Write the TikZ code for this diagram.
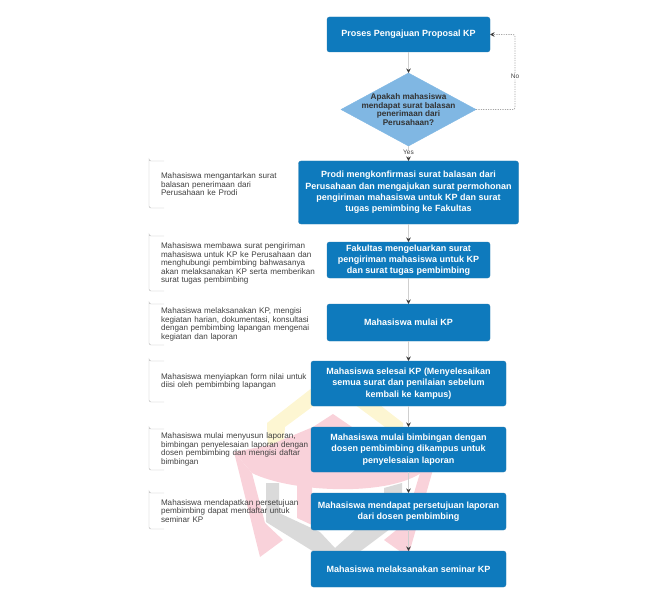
\documentclass[tikz,border=0pt]{standalone}
\usepackage{fontspec}
\setmainfont{Liberation Sans}
\usetikzlibrary{arrows.meta, positioning, shapes.geometric, calc}
\definecolor{boxblue}{HTML}{0E7ABD}
\definecolor{diamondblue}{HTML}{80B7E3}
\definecolor{linegray}{HTML}{CFCFCF}
\definecolor{tipgray}{HTML}{3A3A3A}
\definecolor{notegray}{HTML}{B5B5B5}
\definecolor{logoyellow}{HTML}{FDF6D2}
\definecolor{logopink}{HTML}{F9D2DA}
\definecolor{logogray}{HTML}{DADADA}

\begin{document}
\begin{tikzpicture}[
    x=1pt, y=-1pt,
    node distance=21pt,
    stepbox/.style={draw=boxblue!80!gray, rounded corners=2.5pt, fill=boxblue, text=white,
      font=\fontsize{9}{11.3}\selectfont\bfseries, align=center, outer sep=0pt, inner sep=0pt, minimum width=#1},
    question/.style={diamond, draw=diamondblue, fill=diamondblue, aspect=1.85, inner sep=-6pt, outer sep=0pt,
      minimum width=135pt, minimum height=73pt, font=\fontsize{8.2}{8.4}\selectfont\bfseries, align=center, text=black!80},
    note/.style={font=\fontsize{8.1}{8.5}\selectfont, text=black!75, align=left, anchor=north east, outer sep=0pt,
      inner xsep=12pt, inner ysep=0pt, text width=154pt,
      append after command={
        ($(\tikzlastnode.north west)+(15pt,0)$) edge[notebracket] ($(\tikzlastnode.south west)+(15pt,0)$)
      }},
    notebracket/.style={draw=notegray, rounded corners=2pt, to path={-| ($(\tikztostart -| \tikzlastnode.west)$) |- (\tikztotarget)}},
    arrow/.style={draw=linegray, line width=0.8pt, -{Stealth[length=4.5pt, width=4.5pt, color=tipgray]}},
    flowlabel/.style={font=\fontsize{6.5}{7}\selectfont, text=black!75, fill=white, inner sep=0.8pt}
]

% Logo behind the flow
\fill[logoyellow] (267,423) -- (335,370) -- (403,423) -- (403,458) -- (387,450) -- (385,427) -- (335,390)
  -- (285,427) -- (283,450) -- (268,458) -- cycle;
\fill[logopink] (333,414) -- (313,427) -- (270,445) -- (234,452) -- (252,473)
  .. controls (290,492) and (385,497) .. (421,473) -- (438,452) -- (395,445) -- (352,427) -- cycle;
\fill[logopink] (234,452) -- (260,557) -- (283,540) -- (265,523) -- (252,473) -- cycle;
\fill[logopink] (438,452) -- (408,557) -- (384,540) -- (405,523) -- (420,473) -- cycle;
\fill[logopink] (297,485) -- (312,487) -- (312,525) -- (297,518) -- cycle;
\fill[logogray] (266,483) -- (279,483) -- (279,513) -- (320,532) -- (335,548) -- (355,530) -- (384,510)
  -- (384,488) -- (402,483) -- (402,520) -- (362,550) -- (335,565) -- (266,522) -- cycle;

% Flow boxes
\node[stepbox=163pt, minimum height=35pt] (proses) at (408.5,34.5) {Proses Pengajuan Proposal KP};
\node[question, below=21pt of proses] (tanya) {Apakah mahasiswa\\mendapat surat balasan\\penerimaan dari\\Perusahaan?};
\node[stepbox=220pt, minimum height=63pt, below=15pt of tanya] (prodi) {Prodi mengkonfirmasi surat balasan dari\\Perusahaan dan mengajukan surat permohonan\\pengiriman mahasiswa untuk KP dan surat\\tugas pemimbing ke Fakultas};
\node[stepbox=163pt, minimum height=36pt, below=18pt of prodi] (fakultas) {Fakultas mengeluarkan surat\\pengiriman mahasiswa untuk KP\\dan surat tugas pembimbing};
\node[stepbox=163pt, minimum height=37pt, below=26pt of fakultas] (mulai) {Mahasiswa mulai KP};
\node[stepbox=195pt, minimum height=45pt, below=20pt of mulai] (selesai) {Mahasiswa selesai KP (Menyelesaikan\\semua surat dan penilaian sebelum\\kembali ke kampus)};
\node[stepbox=195pt, minimum height=45pt, below=of selesai] (bimbingan) {Mahasiswa mulai bimbingan dengan\\dosen pembimbing dikampus untuk\\penyelesaian laporan};
\node[stepbox=195pt, minimum height=37pt, below=of bimbingan] (setuju) {Mahasiswa mendapat persetujuan laporan\\dari dosen pembimbing};
\node[stepbox=195pt, minimum height=36pt, below=21pt of setuju] (seminar) {Mahasiswa melaksanakan seminar KP};

% Notes
\node[note, minimum height=47pt] (note1) at (prodi.north west -| proses.west) {Mahasiswa mengantarkan surat\\balasan penerimaan dari\\Perusahaan ke Prodi};
\node[note, minimum height=55pt, below=28pt of note1] (note2) {Mahasiswa membawa surat pengiriman\\mahasiswa untuk KP ke Perusahaan dan\\menghubungi pembimbing bahwasanya\\akan melaksanakan KP serta memberikan\\surat tugas pembimbing};
\node[note, minimum height=41pt, below=13pt of note2] (note3) {Mahasiswa melaksanakan KP, mengisi\\kegiatan harian, dokumentasi, konsultasi\\dengan pembimbing lapangan mengenai\\kegiatan dan laporan};
\node[note, minimum height=41pt, below=16pt of note3] (note4) {Mahasiswa menyiapkan form nilai untuk\\diisi oleh pembimbing lapangan};
\node[note, minimum height=41pt, below=27pt of note4] (note5) {Mahasiswa mulai menyusun laporan,\\bimbingan penyelesaian laporan dengan\\dosen pembimbing dan mengisi daftar\\bimbingan};
\node[note, minimum height=36pt, below=23pt of note5] (note6) {Mahasiswa mendapatkan persetujuan\\pembimbing dapat mendaftar untuk\\seminar KP};

% Arrows
\coordinate (noturn) at (515,0);
\draw[arrow] (proses) -- (tanya);
\draw[arrow] (tanya) -- node[flowlabel, pos=0.45] (yes) {Yes} (prodi);
\draw[arrow] (prodi) -- (fakultas);
\draw[arrow] (fakultas) -- (mulai);
\draw[arrow] (mulai) -- (selesai);
\draw[arrow] (selesai) -- (bimbingan);
\draw[arrow] (bimbingan) -- (setuju);
\draw[arrow] (setuju) -- (seminar);
\draw[arrow, draw=gray!70, dash pattern=on 1.2pt off 1.2pt, rounded corners=2pt] (tanya.east) -- (tanya.east -| noturn) -- node[flowlabel, pos=0.44] (no) {No} (proses.east -| noturn) -- (proses.east);

\useasboundingbox (0,0) rectangle (648,599);
\end{tikzpicture}
\end{document}
